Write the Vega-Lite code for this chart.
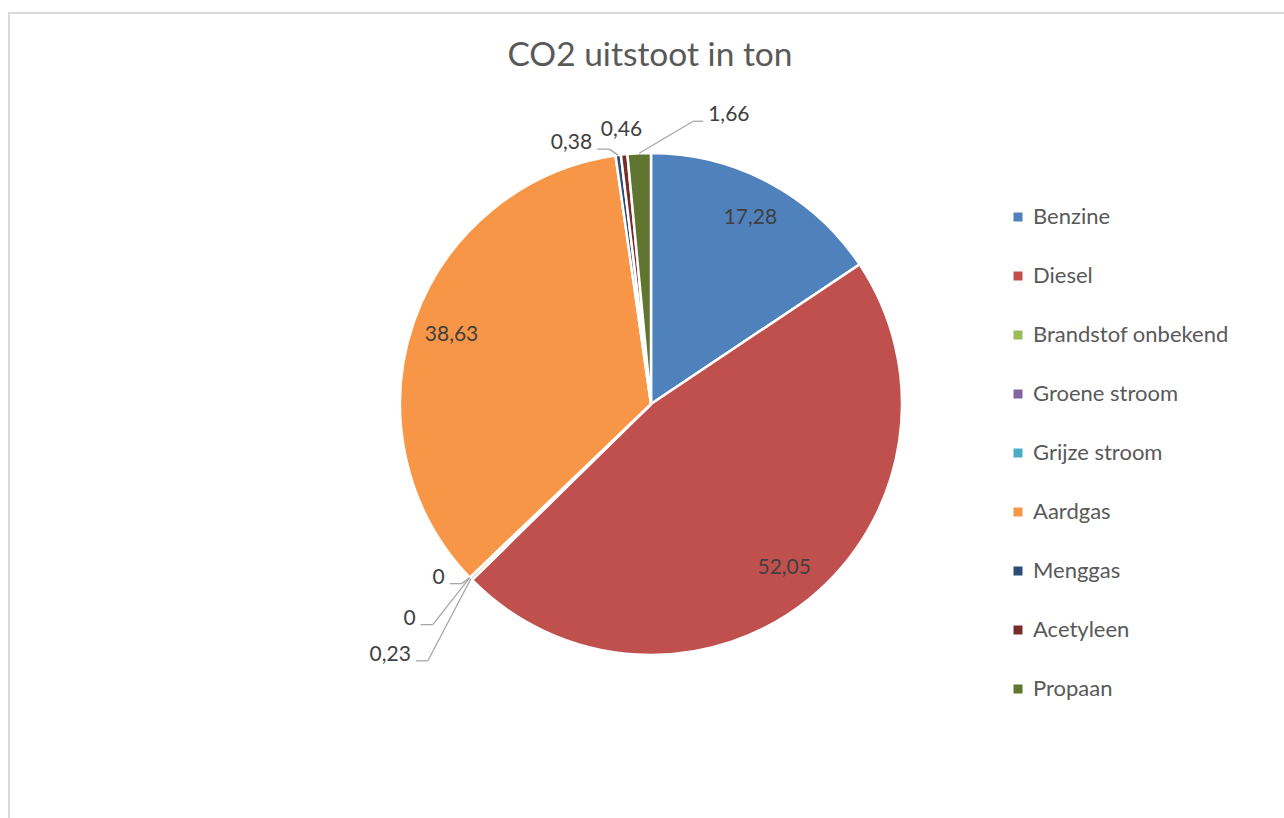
{
  "$schema": "https://vega.github.io/schema/vega-lite/v6.json",
  "width": 1275,
  "height": 805,
  "autosize": {"type": "none"},
  "padding": {"left": 9, "top": 13, "right": 0, "bottom": 0},
  "background": "white",
  "title": {
    "text": "CO2 uitstoot in ton",
    "anchor": "middle",
    "frame": "group",
    "font": "Lato",
    "fontSize": 33.5,
    "fontWeight": "normal",
    "color": "#595959",
    "baseline": "alphabetic",
    "offset": -86,
    "dx": 3.5
  },
  "config": {
    "font": "Lato",
    "view": {"stroke": "#d9d9d9", "strokeWidth": 2, "strokeDash": [1275, 2080, 805]}
  },
  "data": {
    "values": [
      {"i": 1, "cat": "Benzine", "value": 17.28},
      {"i": 2, "cat": "Diesel", "value": 52.05},
      {"i": 3, "cat": "Brandstof onbekend", "value": 0.23},
      {"i": 4, "cat": "Groene stroom", "value": 0},
      {"i": 5, "cat": "Grijze stroom", "value": 0},
      {"i": 6, "cat": "Aardgas", "value": 38.63},
      {"i": 7, "cat": "Menggas", "value": 0.38},
      {"i": 8, "cat": "Acetyleen", "value": 0.46},
      {"i": 9, "cat": "Propaan", "value": 1.66}
    ]
  },
  "transform": [
    {"joinaggregate": [{"op": "sum", "field": "value", "as": "total"}]},
    {"window": [{"op": "sum", "field": "value", "as": "cum"}], "sort": [{"field": "i"}], "frame": [null, 0]},
    {"calculate": "2*PI*(datum.cum - datum.value/2)/datum.total", "as": "mid"},
    {"calculate": "sin(datum.mid)*251", "as": "ex"},
    {"calculate": "-cos(datum.mid)*251", "as": "ey"},
    {"calculate": "replace(format(datum.value, '.4~r'), '.', ',')", "as": "lbl"},
    {"calculate": "datum.value > 10 ? 'in' : datum.cat === 'Acetyleen' ? 'top' : datum.cat === 'Propaan' ? 'right' : 'left'", "as": "pos"},
    {"calculate": "datum.pos === 'in' ? 211 : 276", "as": "lr"},
    {"calculate": "sin(datum.mid)*datum.lr", "as": "lx"},
    {"calculate": "-cos(datum.mid)*datum.lr", "as": "ly"},
    {"calculate": "datum.cat === 'Propaan' ? 54 : datum.cat === 'Menggas' ? -9 : datum.cat === 'Grijze stroom' ? -8 : datum.cat === 'Groene stroom' ? -37 : -43", "as": "bdx"},
    {"calculate": "datum.cat === 'Propaan' ? -32 : datum.cat === 'Menggas' ? -6 : datum.cat === 'Grijze stroom' ? 6 : datum.cat === 'Groene stroom' ? 47 : 82", "as": "bdy"},
    {"calculate": "datum.ex + datum.bdx", "as": "bx"},
    {"calculate": "datum.ey + datum.bdy", "as": "by"},
    {"calculate": "datum.bx + (datum.pos === 'right' ? 10 : -12)", "as": "sx"}
  ],
  "layer": [
    {
      "mark": {"type": "arc", "outerRadius": 251, "stroke": "white", "strokeWidth": 2.5},
      "encoding": {
        "theta": {"field": "value", "type": "quantitative", "stack": true},
        "order": {"field": "i", "type": "quantitative"},
        "x": {"datum": 0, "type": "quantitative", "scale": {"domain": [-642, 633], "nice": false, "zero": false}, "axis": null},
        "y": {"datum": 0, "type": "quantitative", "scale": {"domain": [-391, 414], "nice": false, "zero": false, "reverse": true}, "axis": null},
        "color": {
          "field": "cat",
          "type": "nominal",
          "sort": null,
          "scale": {
            "domain": ["Benzine", "Diesel", "Brandstof onbekend", "Groene stroom", "Grijze stroom", "Aardgas", "Menggas", "Acetyleen", "Propaan"],
            "range": ["#4F81BD", "#C0504D", "#9BBB59", "#8064A2", "#4BACC6", "#F79646", "#2C4D75", "#772C2A", "#5F7530"]
          },
          "legend": {
            "orient": "none",
            "legendX": 998,
            "legendY": 193,
            "title": null,
            "symbolType": "square",
            "symbolSize": 81,
            "symbolStrokeWidth": 0,
            "symbolOpacity": 1,
            "labelFont": "Lato",
            "labelFontSize": 22,
            "labelColor": "#595959",
            "labelOffset": 4,
            "labelLimit": 400,
            "rowPadding": 37,
            "padding": 0
          }
        }
      }
    },
    {
      "transform": [{"filter": "datum.pos === 'left' || datum.pos === 'right'"}],
      "mark": {"type": "rule", "color": "#a6a6a6", "strokeWidth": 1.3},
      "encoding": {
        "x": {"field": "ex", "type": "quantitative", "scale": {"domain": [-642, 633], "nice": false, "zero": false}, "axis": null},
        "y": {"field": "ey", "type": "quantitative", "scale": {"domain": [-391, 414], "nice": false, "zero": false, "reverse": true}, "axis": null},
        "x2": {"field": "bx"},
        "y2": {"field": "by"}
      }
    },
    {
      "transform": [{"filter": "datum.pos === 'left' || datum.pos === 'right'"}],
      "mark": {"type": "rule", "color": "#a6a6a6", "strokeWidth": 1.3},
      "encoding": {
        "x": {"field": "bx", "type": "quantitative", "scale": {"domain": [-642, 633], "nice": false, "zero": false}, "axis": null},
        "y": {"field": "by", "type": "quantitative", "scale": {"domain": [-391, 414], "nice": false, "zero": false, "reverse": true}, "axis": null},
        "x2": {"field": "sx"}
      }
    },
    {
      "transform": [{"filter": "datum.pos === 'in' || datum.pos === 'top'"}],
      "mark": {"type": "text", "align": "center", "baseline": "middle", "font": "Lato", "fontSize": 21, "color": "#404040"},
      "encoding": {
        "x": {"field": "lx", "type": "quantitative", "scale": {"domain": [-642, 633], "nice": false, "zero": false}, "axis": null},
        "y": {"field": "ly", "type": "quantitative", "scale": {"domain": [-391, 414], "nice": false, "zero": false, "reverse": true}, "axis": null},
        "text": {"field": "lbl", "type": "nominal"}
      }
    },
    {
      "transform": [{"filter": "datum.pos === 'right'"}],
      "mark": {"type": "text", "align": "left", "baseline": "middle", "dx": 5, "dy": -6, "font": "Lato", "fontSize": 21, "color": "#404040"},
      "encoding": {
        "x": {"field": "sx", "type": "quantitative", "scale": {"domain": [-642, 633], "nice": false, "zero": false}, "axis": null},
        "y": {"field": "by", "type": "quantitative", "scale": {"domain": [-391, 414], "nice": false, "zero": false, "reverse": true}, "axis": null},
        "text": {"field": "lbl", "type": "nominal"}
      }
    },
    {
      "transform": [{"filter": "datum.pos === 'left'"}],
      "mark": {"type": "text", "align": "right", "baseline": "middle", "dx": -5, "dy": -6, "font": "Lato", "fontSize": 21, "color": "#404040"},
      "encoding": {
        "x": {"field": "sx", "type": "quantitative", "scale": {"domain": [-642, 633], "nice": false, "zero": false}, "axis": null},
        "y": {"field": "by", "type": "quantitative", "scale": {"domain": [-391, 414], "nice": false, "zero": false, "reverse": true}, "axis": null},
        "text": {"field": "lbl", "type": "nominal"}
      }
    }
  ]
}
